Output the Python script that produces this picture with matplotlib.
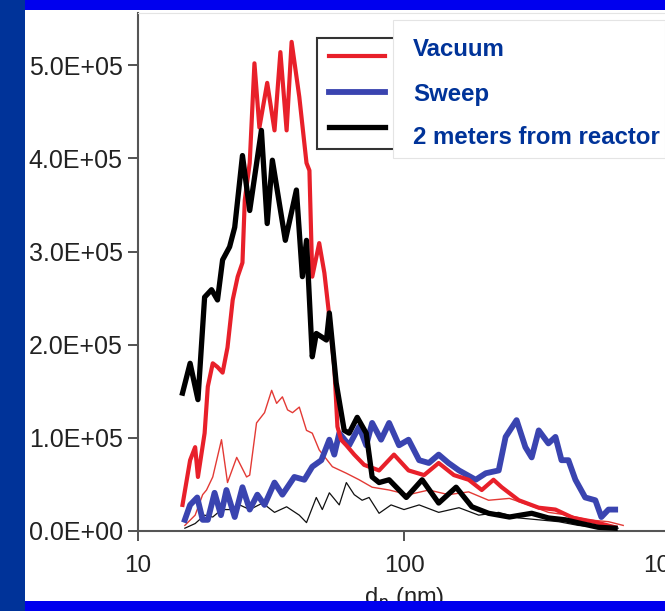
import numpy as np
import matplotlib.pyplot as plt
from matplotlib.patches import Rectangle
from matplotlib.ticker import FuncFormatter, NullLocator

# particle size distributions, d in nm, counts in units of 1e5
vac_d = [14.7, 15.7, 16.4, 16.8, 17.8, 18.3, 19.1, 19.9, 20.8, 21.7, 22.7, 23.7, 24.7, 25.2, 26.3,
         27.4, 28.6, 30.6, 32.6, 34.3, 36.2, 37.8, 40.4, 43.0, 44.1, 45.2, 48.0, 50.2, 52.4, 54.7,
         56.2, 58.0, 60.7, 65.0, 70.8, 80.6, 91.7, 104, 119, 135, 154, 175, 196, 217, 233, 270,
         321, 371, 433, 515, 622]
vac_n = [0.28, 0.76, 0.90, 0.58, 1.05, 1.55, 1.80, 1.76, 1.70, 1.97, 2.48, 2.73, 2.88, 3.55, 3.95,
         5.02, 4.33, 4.81, 4.30, 5.14, 4.30, 5.25, 4.66, 3.95, 3.87, 2.73, 3.09, 2.77, 2.30, 1.76,
         1.12, 0.98, 0.92, 0.82, 0.71, 0.65, 0.82, 0.65, 0.60, 0.73, 0.60, 0.55, 0.44, 0.55, 0.47,
         0.33, 0.25, 0.23, 0.14, 0.10, 0.04]

swp_d = [15.0, 15.7, 16.7, 17.5, 18.3, 19.4, 20.5, 21.5, 23.1, 24.7, 26.3, 28.1, 29.9, 32.6, 34.9,
         38.7, 42.2, 45.2, 48.9, 52.4, 54.7, 57.1, 62.2, 67.8, 72.1, 75.9, 82.0, 87.9, 95.8, 104,
         114, 124, 135, 147, 161, 186, 203, 227, 241, 265, 286, 302, 321, 349, 371, 391, 415, 441,
         480, 524, 552, 587, 622]
swp_n = [0.12, 0.28, 0.36, 0.12, 0.12, 0.41, 0.17, 0.44, 0.15, 0.47, 0.23, 0.39, 0.28, 0.52, 0.39,
         0.58, 0.55, 0.69, 0.76, 0.98, 0.82, 1.05, 0.92, 1.12, 0.92, 1.16, 0.98, 1.16, 0.92, 0.98,
         0.76, 0.73, 0.82, 0.73, 0.65, 0.55, 0.62, 0.65, 1.01, 1.19, 0.90, 0.79, 1.08, 0.94, 1.01,
         0.76, 0.76, 0.55, 0.36, 0.33, 0.15, 0.23, 0.23]

reac_d = [14.7, 15.7, 16.8, 17.8, 18.9, 19.9, 20.8, 22.1, 23.1, 24.7, 26.3, 29.1, 30.6, 32.0, 35.8,
          39.4, 41.5, 43.0, 45.2, 46.8, 51.1, 52.4, 55.6, 59.6, 62.2, 66.7, 72.1, 75.9, 80.6, 87.9,
          102, 117, 135, 157, 180, 208, 249, 302, 349, 404, 464, 537, 622]
reac_n = [1.48, 1.80, 1.41, 2.51, 2.59, 2.48, 2.91, 3.05, 3.26, 4.03, 3.44, 4.30, 3.30, 3.98, 3.12,
          3.66, 2.73, 3.12, 1.87, 2.12, 2.05, 2.34, 1.59, 1.08, 1.05, 1.22, 1.05, 0.58, 0.52, 0.55,
          0.36, 0.55, 0.30, 0.47, 0.26, 0.19, 0.15, 0.19, 0.14, 0.12, 0.08, 0.04, 0.03]

# thin (second measurement) curves
vac2_d = [15.0, 16.4, 17.5, 18.1, 19.1, 20.6, 21.7, 23.5, 25.6, 26.3, 27.9, 29.9, 31.8, 33.2, 34.9,
          36.5, 38.1, 40.4, 43.0, 45.2, 48.0, 53.8, 60.7, 67.8, 75.9, 87.9, 104, 124, 147, 175,
          208, 249, 294, 349, 415, 490, 587, 667]
vac2_n = [0.06, 0.17, 0.39, 0.44, 0.58, 0.98, 0.52, 0.79, 0.58, 0.60, 1.16, 1.27, 1.51, 1.37, 1.44,
          1.30, 1.27, 1.33, 1.08, 1.05, 0.87, 0.69, 0.62, 0.55, 0.47, 0.44, 0.39, 0.44, 0.39, 0.42,
          0.33, 0.35, 0.28, 0.20, 0.17, 0.12, 0.10, 0.06]

reac2_d = [15.0, 16.4, 17.8, 19.1, 20.6, 22.1, 24.1, 26.3, 29.4, 32.6, 36.2, 40.4, 43.0, 46.8, 49.3,
           52.4, 57.1, 60.7, 65.0, 69.6, 73.9, 80.6, 89.4, 100, 114, 135, 161, 191, 227, 270,
           321, 381, 452, 537, 638]
reac2_n = [0.03, 0.08, 0.17, 0.15, 0.23, 0.23, 0.28, 0.23, 0.30, 0.20, 0.26, 0.17, 0.09, 0.36, 0.23,
           0.41, 0.28, 0.52, 0.39, 0.33, 0.36, 0.19, 0.28, 0.23, 0.28, 0.20, 0.25, 0.17, 0.20, 0.14,
           0.12, 0.10, 0.06, 0.04, 0.03]

labels = ['Vacuum', 'Sweep', '2 meters from reactor']
xticks = [10, 100, 1000]
yticks = [0, 1e5, 2e5, 3e5, 4e5, 5e5]

W, H = 665, 611
fig = plt.figure(figsize=(W / 100, H / 100), dpi=100)
fig.patch.set_facecolor('white')
ax = fig.add_axes([138 / W, 1 - 531 / H, (670 - 138) / W, (531 - 13) / H])

ax.plot(vac2_d, np.array(vac2_n) * 1e5, color='#e33a35', lw=1.0, zorder=2)
ax.plot(reac2_d, np.array(reac2_n) * 1e5, color='#111111', lw=0.9, zorder=2)
l2, = ax.plot(swp_d, np.array(swp_n) * 1e5, color='#3a44b0', lw=4.2, zorder=3)
l1, = ax.plot(vac_d, np.array(vac_n) * 1e5, color='#e8202a', lw=3.0, zorder=4)
l3, = ax.plot(reac_d, np.array(reac_n) * 1e5, color='#000000', lw=3.8, zorder=5)

ax.set_xscale('log')
ax.set_xlim(10, 1000)
ax.set_ylim(0, 5.56e5)
ax.set_xticks(xticks)
ax.set_xticklabels([str(t) for t in xticks])
ax.xaxis.set_minor_locator(NullLocator())
ax.set_yticks(yticks)
ax.yaxis.set_major_formatter(FuncFormatter(lambda v, p: f'{v:.1E}'))

for s in ['left', 'bottom']:
    ax.spines[s].set_color('#555555')
    ax.spines[s].set_linewidth(1.5)
ax.spines['top'].set_color('#e4e4e4')
ax.spines['right'].set_visible(False)
ax.tick_params(direction='out', length=7, width=1.3, color='#444444',
               labelsize=17.5, labelcolor='#222222')
ax.tick_params(axis='y', pad=4, labelsize=18)
ax.tick_params(axis='x', pad=10)
for t in ax.get_xticklabels() + ax.get_yticklabels():
    t.set_family('Liberation Sans')
ax.set_xlabel('d$_p$ (nm)', fontsize=17, family='Liberation Sans', color='#222222', labelpad=6)

leg = ax.legend([l1, l2, l3], labels, loc='upper left',
                bbox_to_anchor=(317 / W, 1 - 38 / H), bbox_transform=fig.transFigure,
                prop=dict(family='Liberation Sans', size=14), handlelength=2.9,
                borderpad=0.6, labelspacing=0.9, borderaxespad=0, fancybox=False,
                framealpha=1, edgecolor='#333333')
leg.get_frame().set_linewidth(1.5)

# slide decoration
fig.add_artist(Rectangle((393 / W, 1 - 158 / H), (W - 393) / W, 138 / H, transform=fig.transFigure,
                         facecolor='white', edgecolor='#e4e4e4', lw=0.8, zorder=10))
for lab, yy in zip(labels, [49, 94, 137]):
    fig.text(413 / W, 1 - yy / H, lab, fontsize=17.3, fontweight='bold', color='#003399',
             family='Liberation Sans', va='center', ha='left', zorder=11)

fig.add_artist(Rectangle((0, 1 - 10 / H), 1, 10 / H, transform=fig.transFigure,
                         facecolor='#0000ee', edgecolor='none', zorder=12))
fig.add_artist(Rectangle((0, 0), 1, 10 / H, transform=fig.transFigure,
                         facecolor='#0000ee', edgecolor='none', zorder=12))
fig.add_artist(Rectangle((0, 0), 25 / W, 1, transform=fig.transFigure,
                         facecolor='#003399', edgecolor='none', zorder=13))

plt.savefig('out.png', dpi=100)
